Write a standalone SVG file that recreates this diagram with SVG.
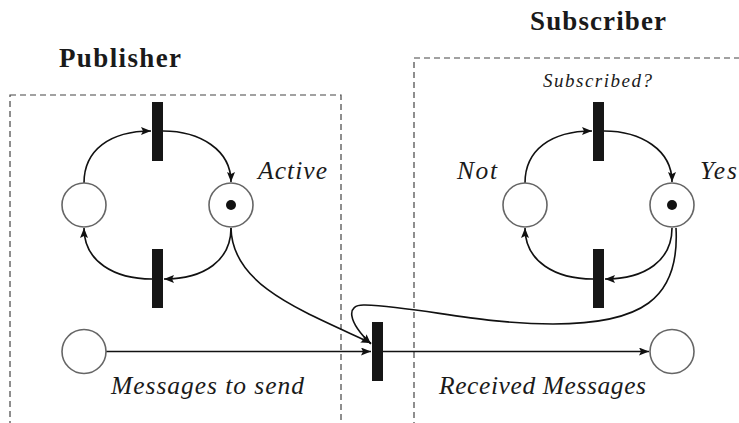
<svg xmlns="http://www.w3.org/2000/svg" width="739" height="423" viewBox="0 0 739 423">
<style>
.box{fill:none;stroke:#444;stroke-width:1.2;stroke-dasharray:6,4}
.place{fill:#fff;stroke:#666;stroke-width:1.6}
.tok{fill:#111}
.tr{fill:#161616}
.arc{fill:none;stroke:#111;stroke-width:1.6}
.lbl{font-family:'Liberation Serif','Times New Roman',serif;font-style:italic;font-size:25.5px;fill:#1a1a1a}
.ttl{font-family:'Liberation Serif','Times New Roman',serif;font-weight:bold;font-size:27px;fill:#1a1a1a}
</style>
<defs>
<marker id="ah" viewBox="0 0 10 8" refX="10" refY="4" markerWidth="10" markerHeight="8" markerUnits="userSpaceOnUse" orient="auto">
<path d="M0,0 L10,4 L0,8 L2,4 z" fill="#111"/>
</marker>
</defs>
<rect width="739" height="423" fill="#fff"/>
<g id="publisher-box">
<rect class="box" x="10" y="95" width="331" height="400"/>
<text class="ttl" x="59" y="66.5" textLength="122" lengthAdjust="spacing">Publisher</text>
</g>
<g id="subscriber-box">
<rect class="box" x="414" y="58" width="400" height="450"/>
<text class="ttl" x="530" y="30" textLength="136" lengthAdjust="spacing">Subscriber</text>
</g>
<g id="connectors">
<path class="arc" marker-end="url(#ah)" d="M84,183 C84,150 110,131 151,131"/>
<path class="arc" marker-end="url(#ah)" d="M163,131 C200,131 231,150 231,182"/>
<path class="arc" marker-end="url(#ah)" d="M231,228 C231,260 205,279 164,279"/>
<path class="arc" marker-end="url(#ah)" d="M152,279 C115,279 84,262 84,228"/>
<path class="arc" marker-end="url(#ah)" d="M525,183 C525,150 551,131 592,131"/>
<path class="arc" marker-end="url(#ah)" d="M604,131 C641,131 672,150 672,182"/>
<path class="arc" marker-end="url(#ah)" d="M672,228 C672,260 646,279 605,279"/>
<path class="arc" marker-end="url(#ah)" d="M593,279 C556,279 525,262 525,228"/>
<path class="arc" marker-end="url(#ah)" d="M231,228 C232,285 300,310 371,343"/>
<path class="arc" marker-end="url(#ah)" d="M676,228 C680,300 640,324 553,324 C480,324 420,307 365,305 C345,304 348,322 371,344"/>
<path class="arc" marker-end="url(#ah)" d="M106,351.5 L371,351.5"/>
<path class="arc" marker-end="url(#ah)" d="M383,351.5 L649,351.5"/>
</g>
<g id="p-inactive"><circle class="place" cx="84" cy="205" r="22"/></g>
<g id="p-active"><circle class="place" cx="231" cy="205" r="22"/><circle class="tok" cx="231" cy="205" r="5"/>
<text class="lbl" x="258" y="179" textLength="69" lengthAdjust="spacing">Active</text></g>
<g id="p-t-top"><rect class="tr" x="152" y="102" width="11" height="59"/></g>
<g id="p-t-bottom"><rect class="tr" x="152" y="249" width="11" height="59"/></g>
<g id="p-messages"><circle class="place" cx="84" cy="351.5" r="22"/>
<text class="lbl" x="111" y="394" textLength="193" lengthAdjust="spacing">Messages to send</text></g>
<g id="t-send"><rect class="tr" x="372" y="322" width="11" height="59"/></g>
<g id="s-not"><circle class="place" cx="525" cy="205" r="22"/>
<text class="lbl" x="457" y="179" textLength="40" lengthAdjust="spacing">Not</text></g>
<g id="s-yes"><circle class="place" cx="672" cy="205" r="22"/><circle class="tok" cx="672" cy="205" r="5"/>
<text class="lbl" x="700" y="179" textLength="37" lengthAdjust="spacing">Yes</text></g>
<g id="s-t-top"><rect class="tr" x="593" y="102" width="11" height="59"/>
<text class="lbl" x="543" y="87" style="font-size:19px" textLength="109" lengthAdjust="spacing">Subscribed?</text></g>
<g id="s-t-bottom"><rect class="tr" x="593" y="249" width="11" height="59"/></g>
<g id="s-received"><circle class="place" cx="672" cy="351.5" r="22"/>
<text class="lbl" x="439" y="394" textLength="207" lengthAdjust="spacing">Received Messages</text></g>
</svg>
